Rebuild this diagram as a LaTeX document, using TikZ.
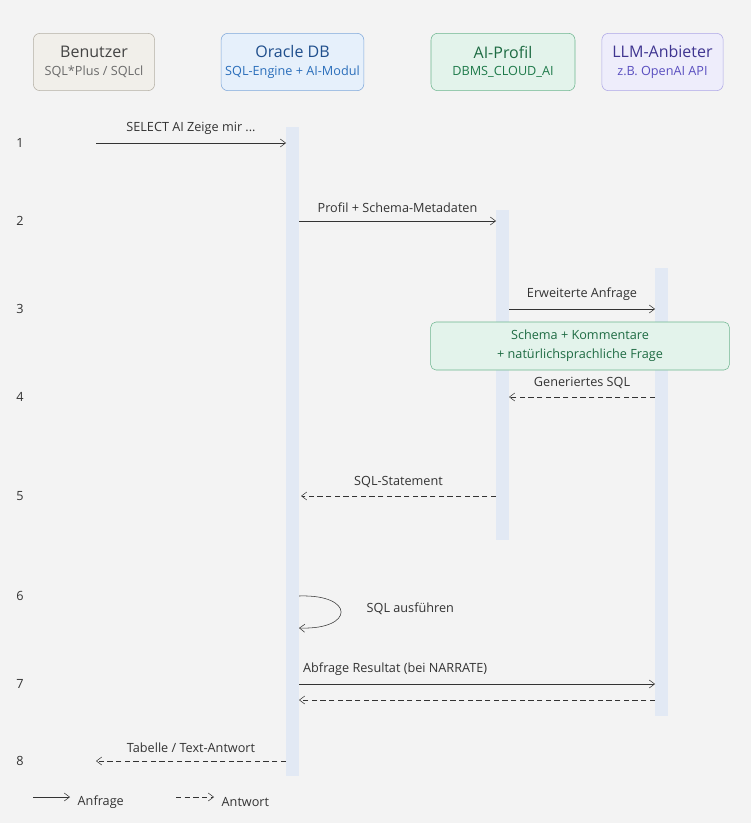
\documentclass[tikz,border=0pt]{standalone}
\usepackage{fontspec}
\setmainfont{Open Sans}
\usetikzlibrary{positioning, arrows.meta}
\definecolor{bg}{HTML}{F3F3F3}
\definecolor{bar}{HTML}{E2E9F4}
\definecolor{ink}{HTML}{333333}
\definecolor{benfill}{HTML}{F1EFEA}\definecolor{bendraw}{HTML}{B5B0A6}
\definecolor{bentext}{HTML}{444444}\definecolor{bensub}{HTML}{6A6A6A}
\definecolor{odbfill}{HTML}{E6F0FB}\definecolor{odbdraw}{HTML}{7FA8DA}
\definecolor{odbtext}{HTML}{1F4E8C}\definecolor{odbsub}{HTML}{2A6EBB}
\definecolor{aipfill}{HTML}{E3F3EB}\definecolor{aipdraw}{HTML}{6DB58F}
\definecolor{aiptext}{HTML}{1E6B43}\definecolor{aipsub}{HTML}{1E7A4A}
\definecolor{llmfill}{HTML}{EEEDFB}\definecolor{llmdraw}{HTML}{ADA6E6}
\definecolor{llmtext}{HTML}{3F3590}\definecolor{llmsub}{HTML}{5A4FC0}
\tikzset{
	actor/.style={draw, rounded corners=5pt, minimum width=#1, minimum height=43pt, align=center, inner sep=0pt},
	lbl/.style={font=\fontsize{9.5}{11}\selectfont, text=ink},
	req/.style={draw=ink, -{Straight Barb[length=4pt,width=6pt]}},
	resp/.style={draw=ink, dashed, dash pattern=on 4pt off 2.5pt, -{Straight Barb[length=4pt,width=6pt]}},
	num/.style={font=\fontsize{9.5}{11}\selectfont, text=ink}
}
\newcommand{\actortext}[4]{{\fontsize{12}{14}\selectfont\color{#1}#3}\\[1pt]{\fontsize{9.5}{11}\selectfont\color{#2}#4}}
\begin{document}
\begin{tikzpicture}[x=0.75pt,y=-0.75pt]
	\fill[bg] (0,0) rectangle (751,823);
	\useasboundingbox (0,0) rectangle (751,823);
	% Teilnehmer
	\node[actor=91pt, fill=benfill, draw=bendraw] (ben) at (94,62) {\actortext{bentext}{bensub}{Benutzer}{SQL*Plus / SQLcl}};
	\node[actor=107pt, fill=odbfill, draw=odbdraw] (odb) at (292.5,62) {\actortext{odbtext}{odbsub}{Oracle DB}{SQL-Engine + AI-Modul}};
	\node[actor=108pt, fill=aipfill, draw=aipdraw] (aip) at (503,62) {\actortext{aiptext}{aipsub}{AI-Profil}{DBMS\_CLOUD\_AI}};
	\node[actor=91pt, fill=llmfill, draw=llmdraw] (llm) at (662.5,62) {\actortext{llmtext}{llmsub}{LLM-Anbieter}{z.B. OpenAI API}};
	% Aktivierungsbalken
	\fill[bar] (286,127) rectangle (299,776);
	\fill[bar] (496,210) rectangle (509,540);
	\fill[bar] (655,268) rectangle (668,716);
	% Schrittnummern
	\foreach \n/\y in {1/143,2/221,3/309,4/397,5/496,6/596,7/684,8/761}
		\node[num] (n\n) at (20,\y) {\n};
	% Ankerpunkte
	\coordinate (b1) at (96,143);   \coordinate (o1) at (286,143);
	\coordinate (o2) at (299,221);  \coordinate (a2) at (496,221);
	\coordinate (a3) at (509,309);  \coordinate (l3) at (655,309);
	\coordinate (l4) at (655,397);  \coordinate (a4) at (509,397);
	\coordinate (a5) at (496,496);  \coordinate (o5) at (301,496);
	\coordinate (o6a) at (299,596); \coordinate (o6b) at (299,628);
	\coordinate (o7) at (299,684);  \coordinate (l7) at (655,684);
	\coordinate (l7b) at (655,700); \coordinate (o7b) at (299,700);
	\coordinate (o8) at (286,761);  \coordinate (b8) at (96,761);
	% Nachrichten
	\draw[req] (b1) -- node[lbl, above=3pt] {SELECT AI Zeige mir ...} (o1);
	\draw[req] (o2) -- node[lbl, above=3pt] {Profil + Schema-Metadaten} (a2);
	\draw[req] (a3) -- node[lbl, above=3pt] {Erweiterte Anfrage} (l3);
	\node[draw=aipdraw, fill=aipfill, rounded corners=4pt, minimum width=224pt, minimum height=36pt, align=center, font=\fontsize{9.5}{14}\selectfont, text=aiptext] (note) at (580,346) {Schema + Kommentare\\+ natürlichsprachliche Frage};
	\draw[resp] (l4) -- node[lbl, above=3pt] {Generiertes SQL} (a4);
	\draw[resp] (a5) -- node[lbl, above=3pt] {SQL-Statement} (o5);
	\draw[req] (o6a) .. controls (355,594) and (355,630) .. (o6b);
	\node[lbl, right] (self) at (362,609) {SQL ausführen};
	\draw[req] (o7) -- node[lbl, above=3pt, pos=0.27] {Abfrage Resultat (bei NARRATE)} (l7);
	\draw[resp] (l7b) -- (o7b);
	\draw[resp] (o8) -- node[lbl, above=3pt] {Tabelle / Text-Antwort} (b8);
	% Legende
	\coordinate (lg1) at (33,797); \coordinate (lg2) at (70,797);
	\coordinate (lg3) at (176,797); \coordinate (lg4) at (214,797);
	\draw[req] (lg1) -- (lg2);
	\node[lbl, right] (lga) at (73,802) {Anfrage};
	\draw[resp] (lg3) -- (lg4);
	\node[lbl, right] (lgb) at (217,802) {Antwort};
\end{tikzpicture}
\end{document}
